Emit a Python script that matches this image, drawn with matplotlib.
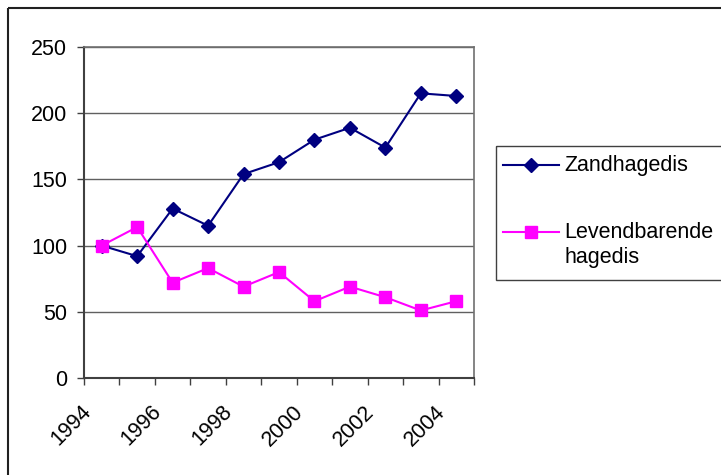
import matplotlib
matplotlib.use("Agg")
import matplotlib.pyplot as plt
import matplotlib.transforms as mtransforms
from matplotlib.patches import Rectangle
from matplotlib.lines import Line2D

years = [1994, 1995, 1996, 1997, 1998, 1999, 2000, 2001, 2002, 2003, 2004]
zandhagedis = [100, 92, 128, 115, 154, 163, 180, 189, 174, 215, 213]
levendbarende = [100, 114, 72, 83, 69, 80, 58, 69, 61, 51, 58]
y_ticks = [0, 50, 100, 150, 200, 250]

plt.rcParams['font.family'] = ['Liberation Sans', 'DejaVu Sans']
fs = 15.5

fig = plt.figure(figsize=(7.21, 4.75), dpi=100)
ax = fig.add_axes([84 / 721, 97 / 475, 390 / 721, 331 / 475])

x = [i + 0.5 for i in range(len(years))]
ax.plot(x, zandhagedis, color='#000080', linewidth=1.5, marker='D', ms=7,
        label='Zandhagedis', zorder=3)
ax.plot(x, levendbarende, color='#FF00FF', linewidth=1.5, marker='s', ms=8.5,
        label='Levendbarende\nhagedis', zorder=3)

ax.set_xlim(0, len(years))
ax.set_ylim(0, 250)
ax.set_yticks(y_ticks)
ax.set_yticklabels([str(v) for v in y_ticks], fontsize=fs)
ax.grid(axis='y', color='#606060', linewidth=1)

# tick marks on category boundaries, labels in the middle of the categories
ax.set_xticks(range(len(years) + 1))
ax.set_xticklabels([])
ax.set_xticks(x[::2], minor=True)
ax.set_xticklabels([str(y) for y in years[::2]], minor=True, fontsize=fs,
                   rotation=45, ha='right', va='center', rotation_mode='anchor')
ax.tick_params(axis='x', which='minor', length=0, pad=22)
ax.tick_params(axis='x', which='major', length=5, width=1, color='#404040')
ax.tick_params(axis='y', length=5, width=1, color='#404040', pad=7)
shift = mtransforms.ScaledTranslation(-14 / 100, 0, fig.dpi_scale_trans)
for lab in ax.get_xticklabels(minor=True):
    lab.set_transform(lab.get_transform() + shift)

for side in ['left', 'bottom']:
    ax.spines[side].set_color('#404040')
    ax.spines[side].set_linewidth(1.5)
for side in ['top', 'right']:
    ax.spines[side].set_color('#707070')
    ax.spines[side].set_linewidth(1.2)

# overlay in pixel coordinates for the chart frame and legend
ov = fig.add_axes([0, 0, 1, 1], facecolor='none')
ov.set_xlim(0, 721)
ov.set_ylim(475, 0)
ov.axis('off')
ov.add_patch(Rectangle((8, 8), 760, 520, fill=False, edgecolor='#202020', linewidth=1.5))

ov.add_patch(Rectangle((496, 146), 260, 134, fill=False, edgecolor='#404040', linewidth=1))
ov.add_line(Line2D([503, 559], [165, 165], color='#000080', linewidth=1.5))
ov.plot([531], [165], color='#000080', marker='D', ms=7)
ov.add_line(Line2D([503, 559], [232, 232], color='#FF00FF', linewidth=1.5))
ov.plot([531], [232], color='#FF00FF', marker='s', ms=8.5)
ov.text(564, 165, 'Zandhagedis', fontsize=fs, va='center', ha='left')
ov.text(564, 232, 'Levendbarende', fontsize=fs, va='center', ha='left')
ov.text(564, 258, 'hagedis', fontsize=fs, va='center', ha='left')

fig.savefig('out.png', dpi=100)
